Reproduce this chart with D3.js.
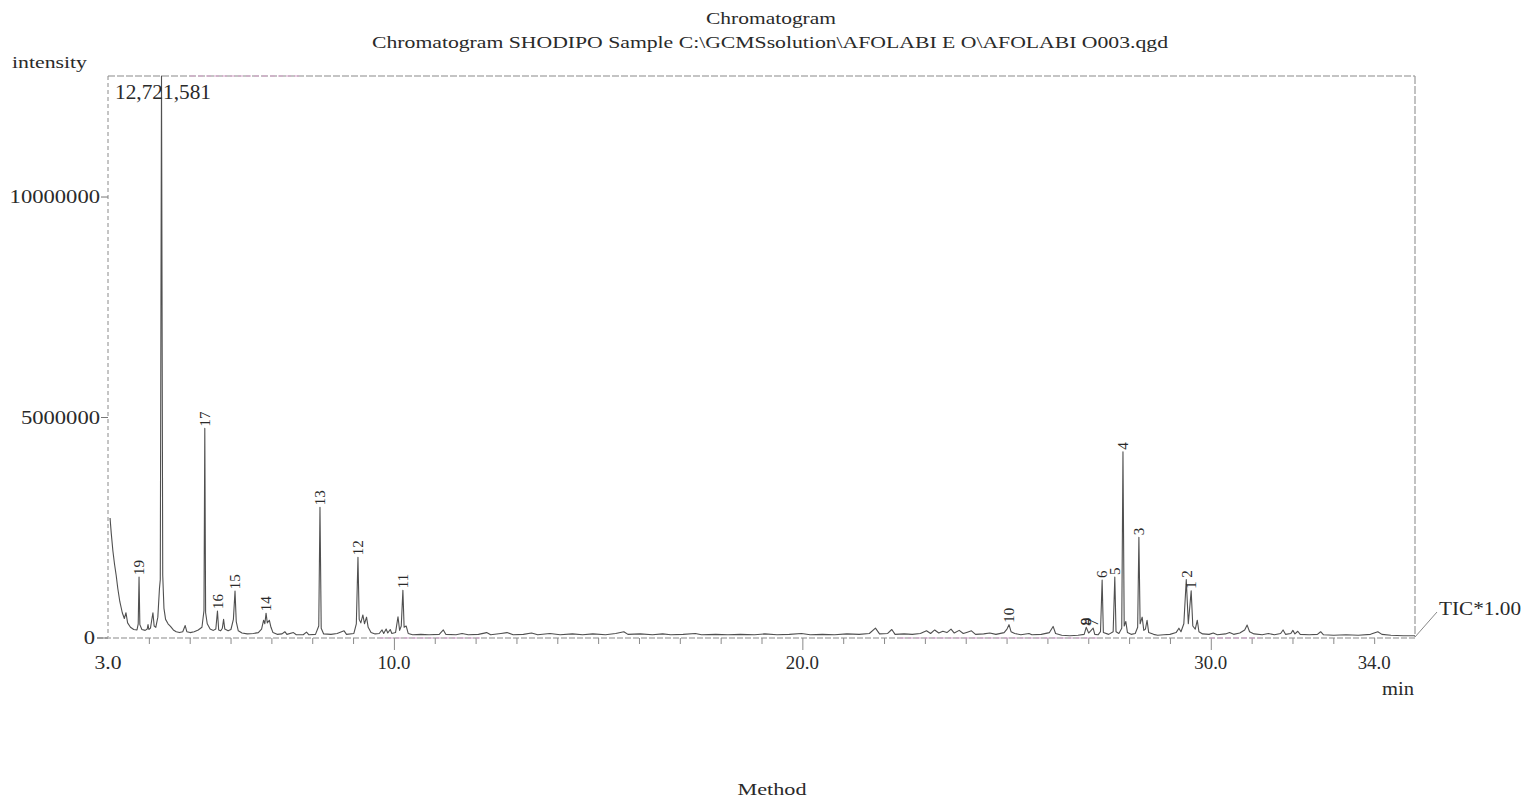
<!DOCTYPE html>
<html><head><meta charset="utf-8">
<script src="https://cdn.jsdelivr.net/npm/d3@7"></script>
<style>
body{margin:0;background:#fff}
text{font-family:"Liberation Serif","Times New Roman",serif;fill:#2a2a2a}
</style>
</head><body>
<svg id="chart" width="1529" height="800"></svg>
<script>
// ---- data ----
const titleLines = ["Chromatogram", "Chromatogram SHODIPO Sample C:\\GCMSsolution\\AFOLABI E O\\AFOLABI O003.qgd"];
const maxIntensity = 12721581;
const xTickValues = [3, 10, 20, 30, 34];
const xTickLabels = ["3.0", "10.0", "20.0", "30.0", "34.0"];
const yTickValues = [0, 5000000, 10000000];
const yTickLabels = ["0", "5000000", "10000000"];
// TIC trace: [retention time (min), intensity]
const trace = [
[3.05,2700000],[3.08,2350000],[3.12,1950000],[3.16,1650000],[3.20,1400000],[3.24,1100000],[3.29,800000],
[3.35,550000],[3.40,420000],[3.44,550000],[3.48,320000],[3.55,220000],[3.63,170000],[3.71,160000],
[3.74,300000],[3.76,1360000],[3.78,280000],[3.83,170000],[3.91,150000],[3.96,180000],[3.98,280000],
[4.00,170000],[4.04,200000],[4.07,380000],[4.10,550000],[4.13,250000],[4.17,220000],[4.22,450000],
[4.26,1100000],[4.28,1300000],[4.31,12721581],[4.34,1400000],[4.37,650000],[4.41,400000],[4.47,300000],
[4.53,240000],[4.60,160000],[4.67,120000],[4.75,100000],[4.83,120000],[4.89,260000],[4.93,120000],
[5.01,100000],[5.11,120000],[5.21,160000],[5.30,220000],[5.35,600000],[5.37,4730000],[5.39,550000],
[5.43,300000],[5.50,180000],[5.58,150000],[5.64,180000],[5.68,590000],[5.71,160000],[5.76,140000],
[5.80,200000],[5.83,400000],[5.86,180000],[5.94,140000],[6.01,170000],[6.07,400000],[6.11,1040000],
[6.14,350000],[6.19,140000],[6.28,90000],[6.41,70000],[6.56,80000],[6.68,100000],[6.76,180000],
[6.81,380000],[6.84,300000],[6.87,540000],[6.90,320000],[6.95,380000],[6.99,220000],[7.04,100000],
[7.14,60000],[7.26,70000],[7.33,120000],[7.38,60000],[7.54,100000],[7.61,50000],[7.78,50000],
[7.86,110000],[7.92,50000],[8.08,60000],[8.16,250000],[8.19,2940000],[8.22,200000],[8.28,70000],
[8.46,60000],[8.61,80000],[8.78,140000],[8.84,60000],[9.02,80000],[9.08,300000],[9.12,1810000],
[9.15,400000],[9.19,320000],[9.24,500000],[9.28,300000],[9.33,450000],[9.37,220000],[9.44,100000],
[9.54,70000],[9.64,80000],[9.71,160000],[9.75,80000],[9.81,180000],[9.85,90000],[9.91,170000],
[9.95,80000],[10.04,100000],[10.10,460000],[10.14,150000],[10.18,250000],[10.22,1060000],[10.25,220000],
[10.30,250000],[10.35,80000],[10.46,50000],[10.66,60000],[10.86,50000],[11.11,60000],[11.21,160000],
[11.27,60000],[11.52,50000],[11.67,80000],[11.82,50000],[12.07,60000],[12.27,100000],[12.37,50000],
[12.62,80000],[12.77,100000],[12.92,50000],[13.17,60000],[13.37,90000],[13.52,50000],[13.82,80000],
[14.07,50000],[14.37,70000],[14.62,50000],[14.87,70000],[15.18,50000],[15.43,80000],[15.63,120000],
[15.73,60000],[16.03,70000],[16.33,50000],[16.58,70000],[16.78,50000],[17.08,60000],[17.38,80000],
[17.53,50000],[17.88,60000],[18.18,50000],[18.48,60000],[18.83,50000],[19.08,70000],[19.38,50000],
[19.68,60000],[19.98,80000],[20.19,50000],[20.49,60000],[20.79,50000],[21.09,70000],[21.39,60000],
[21.64,80000],[21.79,200000],[21.89,70000],[22.09,80000],[22.19,170000],[22.27,60000],[22.49,70000],
[22.69,60000],[22.89,80000],[23.04,140000],[23.14,80000],[23.24,160000],[23.34,90000],[23.44,130000],
[23.54,100000],[23.64,180000],[23.72,90000],[23.84,150000],[23.94,80000],[24.04,110000],[24.14,140000],
[24.24,60000],[24.44,70000],[24.59,90000],[24.74,60000],[24.94,100000],[25.01,180000],[25.06,280000],
[25.11,120000],[25.20,80000],[25.35,50000],[25.55,80000],[25.62,50000],[25.85,60000],[26.05,100000],
[26.14,240000],[26.20,80000],[26.35,40000],[26.55,30000],[26.75,40000],[26.90,60000],[26.95,220000],
[27.01,90000],[27.12,200000],[27.16,60000],[27.24,50000],[27.30,120000],[27.34,1290000],[27.37,100000],
[27.50,60000],[27.61,120000],[27.65,1360000],[27.68,120000],[27.75,80000],[27.82,200000],[27.85,4200000],
[27.88,250000],[27.92,350000],[27.96,100000],[28.05,60000],[28.15,80000],[28.21,220000],[28.24,2260000],
[28.27,300000],[28.32,450000],[28.36,150000],[28.40,180000],[28.44,380000],[28.48,100000],[28.60,60000],
[28.70,40000],[28.85,50000],[29.00,60000],[29.15,100000],[29.22,200000],[29.27,120000],[29.34,300000],
[29.40,1300000],[29.45,300000],[29.52,1050000],[29.56,250000],[29.62,180000],[29.67,380000],[29.71,120000],
[29.80,70000],[29.96,60000],[30.06,90000],[30.16,50000],[30.36,70000],[30.46,100000],[30.56,60000],
[30.71,90000],[30.83,160000],[30.89,270000],[30.95,120000],[31.06,70000],[31.26,50000],[31.41,80000],
[31.56,50000],[31.71,80000],[31.77,160000],[31.83,60000],[31.96,80000],[32.01,150000],[32.06,70000],
[32.13,130000],[32.19,60000],[32.41,50000],[32.61,60000],[32.69,120000],[32.76,50000],[33.01,40000],
[33.31,50000],[33.61,40000],[33.91,60000],[34.09,120000],[34.19,60000],[34.41,40000],[34.71,30000],
[35.00,30000]
];
const peakNumbers = ["19","17","16","15","14","13","12","11","10","9","8","7","6","5","4","3","2","1"];
const peakTimes   = [3.76,5.37,5.68,6.11,6.87,8.19,9.12,10.22,25.06,26.94,26.95,27.12,27.34,27.65,27.85,28.24,29.40,29.52];
const peakHeights = [1360000,4730000,590000,1040000,540000,2940000,1810000,1060000,280000,220000,220000,200000,1290000,1360000,4200000,2260000,1300000,1050000];
const topPeakLabel = "12,721,581";

// ---- drawing ----
const svg = d3.select("#chart");
const L = 108, R = 1415, T = 76, B = 637;
const x = d3.scaleLinear().domain([3, 35]).range([L, R]);
const y = d3.scaleLinear().domain([0, maxIntensity]).range([B, T]);

function txt(str, px, py, size, opts = {}) {
  const t = svg.append("text").attr("x", px).attr("y", py).attr("font-size", size).text(str);
  if (opts.anchor) t.attr("text-anchor", opts.anchor);
  if (opts.len) t.attr("textLength", opts.len).attr("lengthAdjust", "spacingAndGlyphs");
  return t;
}

// titles
txt(titleLines[0], 771, 24, 17, {anchor: "middle", len: 130});
txt(titleLines[1], 770, 48, 17, {anchor: "middle", len: 796});
txt("intensity", 12, 68, 17, {len: 75});

// frame
svg.append("line").attr("x1", L).attr("x2", R).attr("y1", T).attr("y2", T)
  .attr("stroke", "#8a8a8a").attr("stroke-width", 1.2).attr("stroke-dasharray", "7,2");
svg.append("line").attr("x1", 190).attr("x2", 300).attr("y1", T).attr("y2", T)
  .attr("stroke", "#d8a3cc").attr("stroke-width", 1.2).attr("stroke-dasharray", "5,3");
svg.append("line").attr("x1", R).attr("x2", R).attr("y1", T).attr("y2", B)
  .attr("stroke", "#9a9a9a").attr("stroke-width", 1.2).attr("stroke-dasharray", "8,2");
svg.append("line").attr("x1", L).attr("x2", L).attr("y1", T).attr("y2", B)
  .attr("stroke", "#8a8a8a").attr("stroke-width", 1).attr("stroke-dasharray", "4,3");

// x axis (baseline + ticks)
const xAxis = d3.axisBottom(x).tickValues(d3.range(4, 35, 1)).tickSize(5).tickFormat("");
const gx = svg.append("g").attr("transform", `translate(0,${B + 1})`).call(xAxis);
gx.select(".domain").remove();
gx.selectAll(".tick line").attr("stroke", "#8a8a8a").attr("stroke-width", 1)
  .attr("y2", d => (d % 10 === 0 ? 12 : 6));
svg.append("line").attr("x1", L - 11).attr("x2", R).attr("y1", B + 1).attr("y2", B + 1)
  .attr("stroke", "#8a8a8a").attr("stroke-width", 1.1).attr("stroke-dasharray", "6,2");
[[380, 480], [900, 1100], [1210, 1260]].forEach(s =>
  svg.append("line").attr("x1", s[0]).attr("x2", s[1]).attr("y1", B + 1).attr("y2", B + 1)
    .attr("stroke", "#d6a6cf").attr("stroke-width", 1.1).attr("stroke-dasharray", "5,3"));
xTickValues.forEach((v, i) => {
  txt(xTickLabels[i], x(v), 669, 18, {anchor: "middle", len: xTickLabels[i].length === 3 ? 27 : 33});
});
txt("min", 1414, 695, 18, {anchor: "end", len: 32});

// y axis ticks
yTickValues.forEach((v, i) => {
  svg.append("line").attr("x1", i === 0 ? 97 : 101).attr("x2", L).attr("y1", y(v) + 1).attr("y2", y(v) + 1)
    .attr("stroke", "#777").attr("stroke-width", 1);
  txt(yTickLabels[i], i === 0 ? 95 : 100, y(v) + 7, 18, {anchor: "end", len: yTickLabels[i].length * 11.3});
});

// trace
const line = d3.line().x(d => x(d[0])).y(d => y(d[1]));
svg.append("path").datum(trace).attr("d", line).attr("fill", "none")
  .attr("stroke", "#505050").attr("stroke-width", 1.1).attr("stroke-linejoin", "round");

// peak labels (rotated, reading bottom to top)
peakNumbers.forEach((n, i) => {
  const px = x(peakTimes[i]), py = y(peakHeights[i]) - 2;
  svg.append("text").attr("transform", `translate(${px},${py}) rotate(-90)`)
    .attr("dy", "0.35em").attr("font-size", 15).attr("fill", "#333").text(n);
});
txt(topPeakLabel, 115, 99, 20, {len: 96});

// TIC label
svg.append("line").attr("x1", R).attr("y1", B).attr("x2", 1437).attr("y2", 612)
  .attr("stroke", "#888").attr("stroke-width", 1);
txt("TIC*1.00", 1439, 615, 18, {len: 82});

// method
txt("Method", 772, 795, 17, {anchor: "middle", len: 69});
</script>
</body></html>
